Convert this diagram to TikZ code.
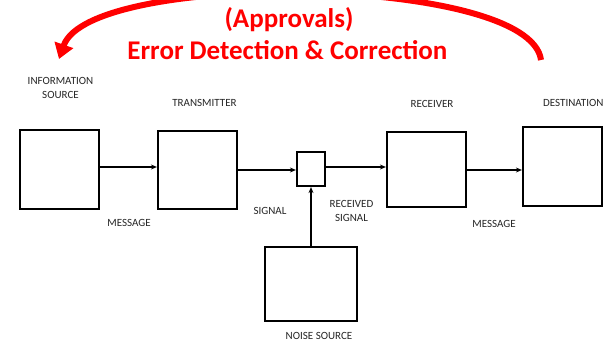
\documentclass[tikz,border=0pt]{standalone}
\usepackage{fontspec}
\setmainfont{Carlito}
\usetikzlibrary{arrows.meta}
\begin{document}
\begin{tikzpicture}[x=1pt,y=-1pt,
  blk/.style={draw=black, line width=2.2pt, inner sep=0pt, fill=white},
  lbl/.style={font=\fontsize{11}{14}\selectfont, text=black!85, align=center, inner sep=0pt},
  conn/.style={draw=black, line width=1.6pt, -{Stealth[length=6pt,width=5pt]}},
  title/.style={font=\fontsize{27}{31}\selectfont\bfseries, text=red, inner sep=0pt},
  feedback/.style={draw=red, line width=6pt, -{Triangle[width=19pt,length=15pt]}}]
\useasboundingbox (0,0) rectangle (606,342);
\fill[white] (0,0) rectangle (606,342);
% boxes
\node[blk, minimum width=79pt, minimum height=79pt] (info) at (59.5,169.5) {};
\node[blk, minimum width=79pt, minimum height=78pt] (trans) at (197.5,170) {};
\node[blk, minimum width=28pt, minimum height=34pt] (small) at (311,169) {};
\node[blk, minimum width=79pt, minimum height=75pt] (recv) at (426.5,169.5) {};
\node[blk, minimum width=79pt, minimum height=79pt] (dest) at (562.5,166.5) {};
\node[blk, minimum width=92pt, minimum height=74pt] (noise) at (311,284) {};
% connectors
\draw[conn] ([yshift=2.5pt]info.east) -- ([yshift=2.5pt]info.east -| trans.west);
\draw[conn] (trans.east) -- (trans.east -| small.west);
\draw[conn, line width=2pt] ([yshift=2pt]small.east) -- ([yshift=2pt]small.east -| recv.west);
\draw[conn] ([yshift=-0.5pt]recv.east) -- ([yshift=-0.5pt]recv.east -| dest.west);
\draw[conn] (noise.north) -- (small.south);
% labels
\node[lbl] (linfo) at (60.5,88) {INFORMATION\\SOURCE};
\node[lbl] (ltrans) at (204.5,103) {TRANSMITTER};
\node[lbl] (lrecv) at (432,104) {RECEIVER};
\node[lbl, anchor=west] (ldest) at (543,102.5) {DESTINATION};
\node[lbl] (lmsg1) at (129,223) {MESSAGE};
\node[lbl] (lsig) at (270,211) {SIGNAL};
\node[lbl] (lrsig) at (351.5,210.5) {RECEIVED\\SIGNAL};
\node[lbl] (lmsg2) at (494,224) {MESSAGE};
\node[lbl] (lnoise) at (319,336) {NOISE SOURCE};
% title
\node[title, anchor=base] (t1) at (289,28) {(Approvals)};
\node[title, anchor=base] (t2) at (287.5,59.3) {Error Detection \& Correction};
% feedback arrow
\begin{scope}
\clip (0,0) rectangle (606,342);
\coordinate (fbstart) at (541,60);
\coordinate (fbend) at (59,59);
\draw[feedback] (fbstart) .. controls (530,-25) and (90,-30) .. (fbend);
\end{scope}
\end{tikzpicture}
\end{document}
